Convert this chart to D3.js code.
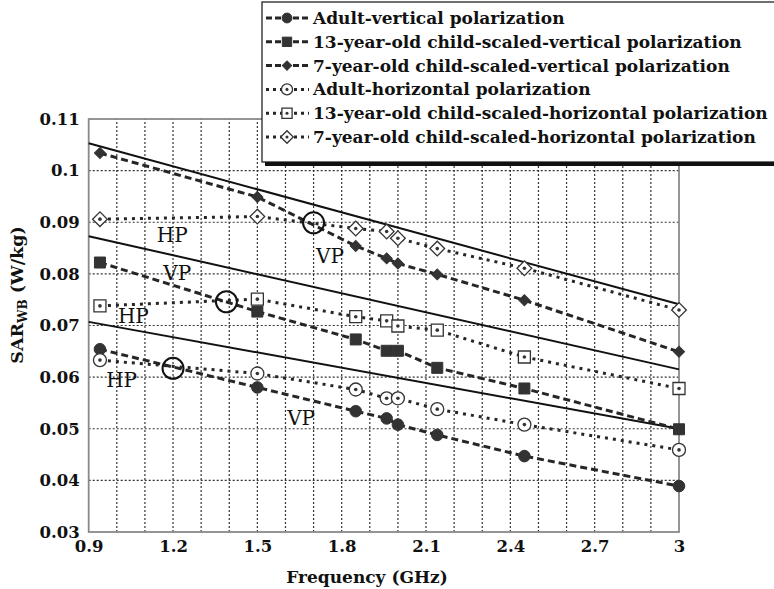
<!DOCTYPE html>
<html>
<head>
<meta charset="utf-8">
<script src="https://cdn.jsdelivr.net/npm/d3@7"></script>
<style>
  body { margin: 0; background: #fff; }
  text { font-family: "DejaVu Serif", "Liberation Serif", serif; }
</style>
</head>
<body>
<svg id="svg"></svg>
<script>
// SAR whole-body vs frequency

const freqs = [0.94, 1.5, 1.85, 1.96, 2.0, 2.14, 2.45, 3.0];

const adultVP   = [0.0654, 0.0580, 0.0534, 0.0520, 0.0508, 0.0488, 0.0447, 0.0389];
const child13VP = [0.0822, 0.0727, 0.0673, 0.0651, 0.0651, 0.0618, 0.0578, 0.0499];
const child7VP  = [0.1034, 0.0949, 0.0854, 0.0830, 0.0820, 0.0799, 0.0749, 0.0649];
const adultHP   = [0.0633, 0.0607, 0.0576, 0.0559, 0.0559, 0.0538, 0.0508, 0.0459];
const child13HP = [0.0738, 0.0751, 0.0717, 0.0709, 0.0699, 0.0691, 0.0639, 0.0578];
const child7HP  = [0.0906, 0.0911, 0.0888, 0.0882, 0.0869, 0.0849, 0.0811, 0.0730];

const seriesNames = [
  'Adult-vertical polarization',
  '13-year-old child-scaled-vertical polarization',
  '7-year-old child-scaled-vertical polarization',
  'Adult-horizontal polarization',
  '13-year-old child-scaled-horizontal polarization',
  '7-year-old child-scaled-horizontal polarization'
];

// straight solid reference lines [f, sar] at both ends
const refLines = [
  [[0.9, 0.1053], [3.0, 0.0741]],
  [[0.9, 0.0873], [3.0, 0.0615]],
  [[0.9, 0.0707], [3.0, 0.0500]]
];

// big open circles where HP and VP curves cross
const crossPoints = [[1.2, 0.0617], [1.39, 0.0746], [1.7, 0.0899]];

// HP / VP labels: [text, f, sar]
const labels = [
  ['HP', 1.142, 0.0862],
  ['VP', 1.165, 0.0788],
  ['HP', 1.004, 0.0705],
  ['HP', 0.962, 0.0581],
  ['VP', 1.709, 0.0821],
  ['VP', 1.606, 0.0507]
];

const xTicks = [0.9, 1.2, 1.5, 1.8, 2.1, 2.4, 2.7, 3];
const yTicks = [0.03, 0.04, 0.05, 0.06, 0.07, 0.08, 0.09, 0.1, 0.11];

const width = 774;
const height = 589;
const boldFont = '"DejaVu Serif", serif';

const svg = d3.select('#svg')
  .attr('width', width)
  .attr('height', height);

const xScale = d3.scaleLinear().domain([0.9, 3]).range([88.7, 679]);
const yScale = d3.scaleLinear().domain([0.03, 0.11]).range([532, 119]);

const series = [
  { name: seriesNames[0], values: adultVP,   vp: true,  shape: 'circle',  r: 5.8, filled: true },
  { name: seriesNames[1], values: child13VP, vp: true,  shape: 'square',  r: 5.5, filled: true },
  { name: seriesNames[2], values: child7VP,  vp: true,  shape: 'diamond', r: 3.9, filled: true },
  { name: seriesNames[3], values: adultHP,   vp: false, shape: 'circle',  r: 6.5, filled: false },
  { name: seriesNames[4], values: child13HP, vp: false, shape: 'square',  r: 6,   filled: false },
  { name: seriesNames[5], values: child7HP,  vp: false, shape: 'diamond', r: 5.2, filled: false }
];

const ink = '#262626';

// grid
const grid = svg.append('g');
grid.selectAll('line.vx')
  .data(d3.range(10, 30).map(d => d / 10))
  .enter().append('line')
  .attr('x1', d => xScale(d)).attr('x2', d => xScale(d))
  .attr('y1', yScale(0.03)).attr('y2', yScale(0.11))
  .attr('stroke', '#333').attr('stroke-width', 1.2)
  .attr('stroke-dasharray', '2,2');
grid.selectAll('line.hy')
  .data(yTicks.slice(1, -1))
  .enter().append('line')
  .attr('x1', xScale(0.9)).attr('x2', xScale(3))
  .attr('y1', d => yScale(d)).attr('y2', d => yScale(d))
  .attr('stroke', '#333').attr('stroke-width', 1.2)
  .attr('stroke-dasharray', '2,2');

// frame
svg.append('rect')
  .attr('x', xScale(0.9)).attr('y', yScale(0.11))
  .attr('width', xScale(3) - xScale(0.9))
  .attr('height', yScale(0.03) - yScale(0.11))
  .attr('fill', 'none').attr('stroke', '#8a8a8a').attr('stroke-width', 1.8);

// axes
const xAxis = svg.append('g')
  .attr('transform', `translate(0,${yScale(0.03)})`)
  .call(d3.axisBottom(xScale).tickValues(xTicks).tickSize(0).tickPadding(8)
    .tickFormat(d => d3.format('')(+d.toFixed(1))));
const yAxis = svg.append('g')
  .attr('transform', `translate(${xScale(0.9)},0)`)
  .call(d3.axisLeft(yScale).tickValues(yTicks).tickSize(0).tickPadding(9)
    .tickFormat(d => d3.format('')(+d.toFixed(2))));
[xAxis, yAxis].forEach(a => {
  a.select('.domain').remove();
  a.selectAll('text')
    .attr('font-family', boldFont)
    .attr('font-weight', 'bold')
    .attr('font-size', 16.5)
    .attr('fill', '#111');
});

svg.append('text')
  .attr('x', 367).attr('y', 583)
  .attr('text-anchor', 'middle')
  .attr('font-weight', 'bold').attr('font-size', 17)
  .attr('fill', '#111')
  .text('Frequency (GHz)');

const yTitle = svg.append('text')
  .attr('transform', 'translate(23,295) rotate(-90)')
  .attr('text-anchor', 'middle')
  .attr('font-weight', 'bold').attr('font-size', 17.5)
  .attr('fill', '#111');
yTitle.append('tspan').text('SAR');
yTitle.append('tspan').attr('font-size', 12).attr('dy', 4).text('WB');
yTitle.append('tspan').attr('dy', -4).text(' (W/kg)');

// solid reference lines
const line = d3.line().x(d => xScale(d[0])).y(d => yScale(d[1]));
svg.selectAll('path.ref')
  .data(refLines)
  .enter().append('path')
  .attr('d', line)
  .attr('fill', 'none').attr('stroke', '#111').attr('stroke-width', 2);

// data series
const seriesLine = d3.line()
  .x((d, i) => xScale(freqs[i]))
  .y(d => yScale(d));

function drawMarker(sel, s, k = 1) {
  const r = s.r * k;
  let shape;
  if (s.shape === 'circle') {
    shape = sel.append('path').attr('d', d3.symbol().type(d3.symbolCircle).size(Math.PI * r * r));
  } else {
    shape = sel.append('path').attr('d', d3.symbol().type(d3.symbolSquare).size(4 * r * r));
    if (s.shape === 'diamond') shape.attr('transform', 'rotate(45)');
  }
  shape
    .attr('fill', s.filled ? '#333' : '#fff')
    .attr('stroke', '#333')
    .attr('stroke-width', s.filled ? 1 : 1.3);
  if (!s.filled) {
    sel.append('circle').attr('r', 1.8 * k).attr('fill', '#333');
  }
}

series.forEach(s => {
  svg.append('path')
    .datum(s.values)
    .attr('d', seriesLine)
    .attr('fill', 'none')
    .attr('stroke', ink)
    .attr('stroke-width', 3)
    .attr('stroke-dasharray', s.vp ? '7,4' : '3,5');
});
series.forEach(s => {
  s.values.forEach((v, i) => {
    const g = svg.append('g')
      .attr('transform', `translate(${xScale(freqs[i])},${yScale(v)})`);
    drawMarker(g, s);
  });
});

// crossing circles
svg.selectAll('circle.cross')
  .data(crossPoints)
  .enter().append('circle')
  .attr('cx', d => xScale(d[0])).attr('cy', d => yScale(d[1]))
  .attr('r', 10.5)
  .attr('fill', 'none').attr('stroke', '#111').attr('stroke-width', 2);

// HP / VP labels
svg.selectAll('text.lab')
  .data(labels)
  .enter().append('text')
  .attr('x', d => xScale(d[1])).attr('y', d => yScale(d[2]))
  .attr('font-family', '"Liberation Serif", serif')
  .attr('font-size', 20).attr('fill', '#111')
  .text(d => d[0]);

// legend
const legend = svg.append('g');
legend.append('rect')
  .attr('x', 265).attr('y', 162).attr('width', 520).attr('height', 4)
  .attr('fill', '#111');
legend.append('rect')
  .attr('x', 262).attr('y', 2).attr('width', 520).attr('height', 160)
  .attr('fill', '#fff').attr('stroke', '#111').attr('stroke-width', 1.2);

const legendTexts = [];
series.forEach((s, i) => {
  const cy = 18 + i * 23.8;
  legend.append('line')
    .attr('x1', 266).attr('x2', 309)
    .attr('y1', cy).attr('y2', cy)
    .attr('stroke', ink).attr('stroke-width', 3)
    .attr('stroke-dasharray', s.vp ? '6,3' : '3,4');
  const g = legend.append('g').attr('transform', `translate(287,${cy})`);
  drawMarker(g, s, 0.85);
  legendTexts.push(legend.append('text')
    .attr('x', 313).attr('y', cy + 6)
    .attr('font-weight', 'bold').attr('font-size', 16)
    .attr('fill', '#111')
    .text(s.name));
});
// fit legend font so the longest entry spans the same width as in the figure
const longest = d3.max(legendTexts, t => t.node().getComputedTextLength());
const fitSize = 16 * 455 / longest;
legendTexts.forEach(t => t.attr('font-size', fitSize));
</script>
</body>
</html>
